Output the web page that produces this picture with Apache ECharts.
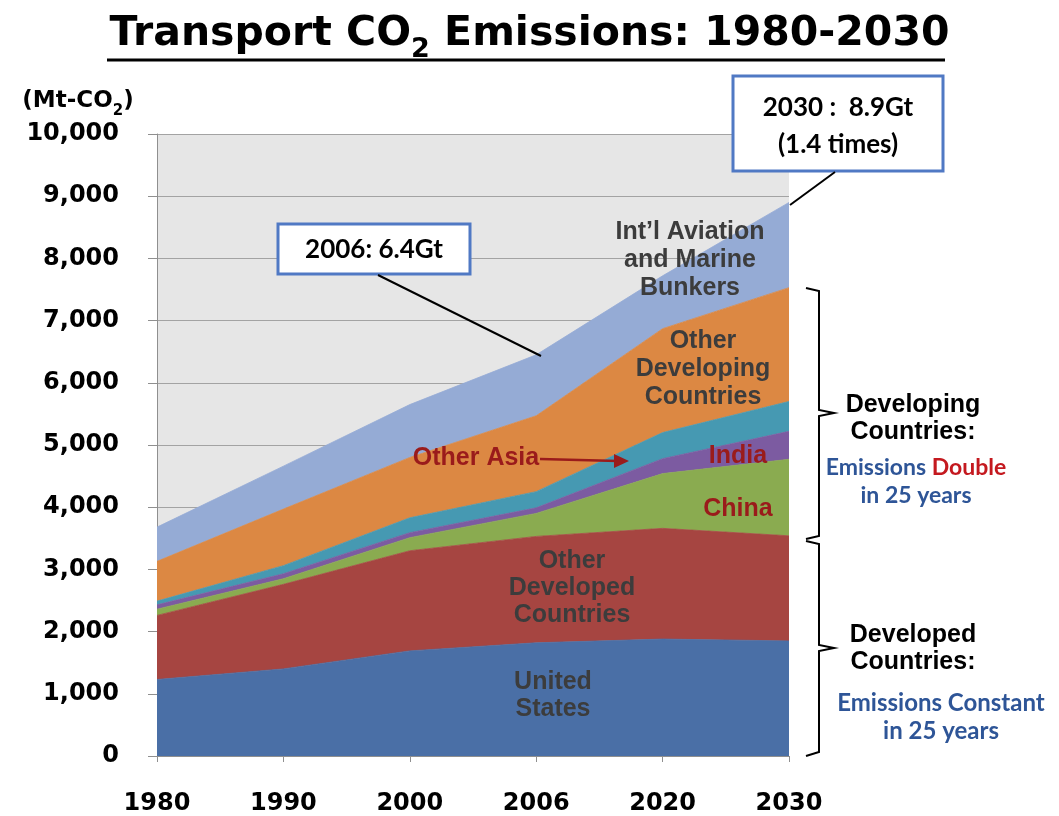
<!DOCTYPE html>
<html>
<head>
<meta charset="utf-8">
<script src="https://cdn.jsdelivr.net/npm/echarts@6/dist/echarts.min.js"></script>
<style>
  html, body { margin: 0; padding: 0; background: #fff; }
  #chart { width: 1059px; height: 816px; }
</style>
</head>
<body>
<div id="chart"></div>
<script>
// categories (x axis)
var years = ['1980', '1990', '2000', '2006', '2020', '2030'];
// stacked series, Mt-CO2, bottom to top
var unitedStates    = [1230, 1400, 1690, 1820, 1880, 1850];
var otherDeveloped  = [1030, 1360, 1610, 1710, 1780, 1690];
var china           = [100, 90, 210, 370, 880, 1230];
var india           = [70, 80, 80, 90, 240, 450];
var otherAsia       = [60, 130, 240, 260, 420, 480];
var otherDeveloping = [640, 910, 970, 1220, 1670, 1830];
var bunkers         = [550, 690, 850, 980, 850, 1370];
// y axis ticks
var yMin = 0, yMax = 10000, yStep = 1000;

var BOLD = 'bold 25px "Liberation Sans", Arial, sans-serif';
var CAL = 'bold 23px Lato, "Open Sans", sans-serif';
var GREY = '#3c3c3c';
var DARKRED = '#9a1b1b';
var BOXBLUE = '#5079c4';
var TXTBLUE = '#2e5597';

function area(name, data, color) {
  return {
    name: name,
    type: 'line',
    stack: 'total',
    data: data,
    symbol: 'none',
    silent: true,
    lineStyle: { width: 0.8, color: color },
    itemStyle: { color: color },
    areaStyle: { color: color, opacity: 1 }
  };
}

function label(text, x, y, font, color, lh) {
  return {
    type: 'text', x: x, y: y, z: 100,
    style: {
      text: text, font: font, fill: color,
      textAlign: 'center', textVerticalAlign: 'middle',
      align: 'center', verticalAlign: 'middle',
      lineHeight: lh || 28
    }
  };
}

function line(points, color, width) {
  return {
    type: 'polyline', z: 100,
    shape: { points: points },
    style: { stroke: color, lineWidth: width, fill: null }
  };
}

function box(x, y, w, h) {
  return {
    type: 'rect', z: 99,
    shape: { x: x, y: y, width: w, height: h },
    style: { fill: '#fff', stroke: BOXBLUE, lineWidth: 3 }
  };
}

var option = {
  animation: false,
  backgroundColor: '#fff',
  title: {
    text: '{a|Transport CO}{s|2}{a| Emissions: 1980-2030}',
    left: 'center',
    top: 9,
    textStyle: {
      rich: {
        a: { fontFamily: 'DejaVu Sans', fontWeight: 'bold', fontSize: 41, color: '#000', lineHeight: 48, verticalAlign: 'top' },
        s: { fontFamily: 'DejaVu Sans', fontWeight: 'bold', fontSize: 27, color: '#000', lineHeight: 49, verticalAlign: 'bottom' }
      }
    }
  },
  grid: {
    left: 157, right: 270, top: 134, bottom: 59,
    show: true, backgroundColor: '#e6e6e6', borderWidth: 0
  },
  xAxis: {
    type: 'category',
    boundaryGap: false,
    data: years,
    axisLine: { lineStyle: { color: '#8f8f8f', width: 1 } },
    axisTick: { show: true, length: 6, lineStyle: { color: '#8f8f8f' } },
    axisLabel: {
      margin: 36, color: '#000', fontSize: 24, fontWeight: 'bold',
      fontFamily: 'DejaVu Sans'
    },
    splitLine: { show: false }
  },
  yAxis: {
    type: 'value',
    min: yMin, max: yMax, interval: yStep,
    axisLine: { show: true, lineStyle: { color: '#8f8f8f' } },
    axisTick: { show: true, length: 9, lineStyle: { color: '#8f8f8f' } },
    axisLabel: {
      margin: 38, color: '#000', fontSize: 24, fontWeight: 'bold',
      fontFamily: 'DejaVu Sans',
      formatter: function (v) { return v.toLocaleString('en-US'); }
    },
    splitLine: { show: true, lineStyle: { color: '#a3a3a3', width: 1 } }
  },
  series: [
    area('United States', unitedStates, '#4a6fa6'),
    area('Other Developed Countries', otherDeveloped, '#a64541'),
    area('China', china, '#8aab50'),
    area('India', india, '#7c5ba1'),
    area('Other Asia', otherAsia, '#4699b2'),
    area('Other Developing Countries', otherDeveloping, '#dc8843'),
    area('Int’l Aviation and Marine Bunkers', bunkers, '#95abd5')
  ],
  graphic: [
    // title underline
    line([[107, 60], [945, 60]], '#000', 3),
    // unit label
    {
      type: 'text', x: 78, y: 104, z: 100,
      style: {
        text: '{a|(Mt-CO}{s|2}{a|)}',
        align: 'center', verticalAlign: 'middle',
        textAlign: 'center', textVerticalAlign: 'middle',
        rich: {
          a: { fontFamily: 'DejaVu Sans', fontWeight: 'bold', fontSize: 23, fill: '#000', lineHeight: 27, verticalAlign: 'top' },
          s: { fontFamily: 'DejaVu Sans', fontWeight: 'bold', fontSize: 15, fill: '#000', lineHeight: 29, verticalAlign: 'bottom' }
        }
      }
    },
    // area labels
    label('United\nStates', 553, 696, BOLD, GREY, 27),
    label('Other\nDeveloped\nCountries', 572, 588, BOLD, GREY, 27),
    label('Int’l Aviation\nand Marine\nBunkers', 690, 260, BOLD, GREY, 28),
    label('Other\nDeveloping\nCountries', 703, 369, BOLD, GREY, 28),
    label('Other Asia', 476, 458, BOLD, DARKRED),
    label('India', 738, 456, BOLD, DARKRED),
    label('China', 738, 509, BOLD, DARKRED),
    // other asia arrow
    line([[540, 459], [618, 461]], DARKRED, 2.5),
    {
      type: 'polygon', z: 100,
      shape: { points: [[629, 461], [614, 454], [614, 468]] },
      style: { fill: DARKRED }
    },
    // callouts
    line([[378, 275], [541, 356]], '#000', 2),
    box(278, 224, 192, 50),
    label('2006: 6.4Gt', 374, 250, 'bold 26px Lato, "Open Sans", sans-serif', '#000'),
    line([[835, 172], [790, 205]], '#000', 2),
    box(733, 76, 210, 95),
    label('2030 :  8.9Gt\n(1.4 times)', 838, 126, 'bold 26px Lato, "Open Sans", sans-serif', '#000', 37),
    // brackets
    line([[806, 288], [819, 291], [819, 410], [834, 413], [819, 416], [819, 536], [806, 539]], '#000', 2),
    line([[806, 541], [819, 544], [819, 645], [834, 648], [819, 651], [819, 752], [806, 756]], '#000', 2),
    label('Developing\nCountries:', 913, 419, BOLD, '#000', 27),
    {
      type: 'text', x: 916, y: 482, z: 100,
      style: {
        text: '{b|Emissions }{r|Double}\n{b|in 25 years}',
        align: 'center', verticalAlign: 'middle',
        textAlign: 'center', textVerticalAlign: 'middle',
        rich: {
          b: { font: CAL, fill: TXTBLUE, lineHeight: 28 },
          r: { font: CAL, fill: '#c4191f', lineHeight: 28 }
        }
      }
    },
    label('Developed\nCountries:', 913, 649, BOLD, '#000', 27),
    label('Emissions Constant\nin 25 years', 941, 717, 'bold 24px Lato, "Open Sans", sans-serif', TXTBLUE, 28)
  ]
};

var chart = echarts.init(document.getElementById('chart'));
chart.setOption(option);
</script>
</body>
</html>
